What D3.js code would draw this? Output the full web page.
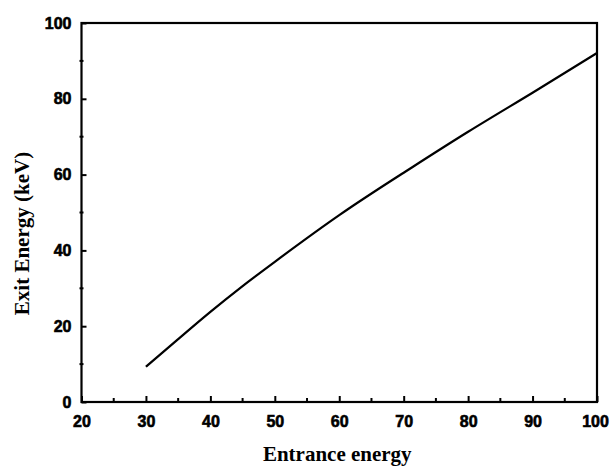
<!DOCTYPE html>
<html>
<head>
<meta charset="utf-8">
<script src="https://cdn.jsdelivr.net/npm/d3@7"></script>
<style>
  html, body { margin: 0; padding: 0; background: #fff; }
  svg { display: block; }
</style>
</head>
<body>
<svg id="chart" width="610" height="466"></svg>
<script>
// Exit energy versus entrance energy
const entranceEnergy = [30, 35, 40, 45, 50, 60, 70, 80, 90, 100];
const exitEnergy     = [9.3, 16.6, 23.8, 30.6, 37.0, 49.3, 60.5, 71.3, 81.6, 92.1];

const xTickValues = [20, 30, 40, 50, 60, 70, 80, 90, 100];
const xMinorTicks = [25, 35, 45, 55, 65, 75, 85, 95];
const yTickValues = [0, 20, 40, 60, 80, 100];
const yMinorTicks = [10, 30, 50, 70, 90];

const xTitle = "Entrance energy";
const yTitle = "Exit Energy (keV)";

const svg = d3.select("#chart");
const plotLeft = 81.5, plotRight = 597, plotTop = 23, plotBottom = 402;

const x = d3.scaleLinear().domain([20, 100]).range([plotLeft, plotRight]);
const y = d3.scaleLinear().domain([0, 100]).range([plotBottom, plotTop]);

const tickFont = "'Liberation Sans', Arial, sans-serif";
const titleFont = "'Liberation Serif', 'Times New Roman', serif";

// frame
svg.append("rect")
  .attr("x", plotLeft).attr("y", plotTop)
  .attr("width", plotRight - plotLeft).attr("height", plotBottom - plotTop)
  .attr("fill", "none").attr("stroke", "#000").attr("stroke-width", 2.2);

// x axis: inward ticks, labels below
const xAxis = svg.append("g").attr("transform", `translate(0,${plotBottom})`)
  .call(d3.axisBottom(x).tickValues(xTickValues).tickSizeInner(-6).tickSizeOuter(0).tickPadding(14));
xAxis.select(".domain").remove();
xAxis.selectAll(".tick line").attr("stroke-width", 2);
xAxis.selectAll(".tick text")
  .attr("font-family", tickFont).attr("font-weight", "bold").attr("font-size", 16)
  .attr("fill", "#000").attr("stroke", "#000").attr("stroke-width", 0.6);
// keep the last label inside the page
xAxis.selectAll(".tick text").filter(d => d === xTickValues[xTickValues.length - 1])
  .attr("dx", -2);

svg.append("g").attr("transform", `translate(0,${plotBottom})`)
  .selectAll("line").data(xMinorTicks).join("line")
  .attr("x1", d => x(d)).attr("x2", d => x(d))
  .attr("y1", 0).attr("y2", -4)
  .attr("stroke", "#000").attr("stroke-width", 2);

// y axis: inward ticks, labels left
const yAxis = svg.append("g").attr("transform", `translate(${plotLeft},0)`)
  .call(d3.axisLeft(y).tickValues(yTickValues).tickSizeInner(-5).tickSizeOuter(0).tickPadding(10));
yAxis.select(".domain").remove();
yAxis.selectAll(".tick line").attr("stroke-width", 2);
yAxis.selectAll(".tick text")
  .attr("font-family", tickFont).attr("font-weight", "bold").attr("font-size", 16)
  .attr("fill", "#000").attr("stroke", "#000").attr("stroke-width", 0.6);

svg.append("g").attr("transform", `translate(${plotLeft},0)`)
  .selectAll("line").data(yMinorTicks).join("line")
  .attr("x1", -2).attr("x2", 2)
  .attr("y1", d => y(d)).attr("y2", d => y(d))
  .attr("stroke", "#000").attr("stroke-width", 2);

// curve
svg.append("path")
  .datum(entranceEnergy.map((e, i) => [e, exitEnergy[i]]))
  .attr("fill", "none").attr("stroke", "#000").attr("stroke-width", 2.2)
  .attr("d", d3.line().x(d => x(d[0])).y(d => y(d[1])).curve(d3.curveNatural));

// axis titles
svg.append("text")
  .attr("x", (plotLeft + plotRight) / 2 - 2).attr("y", 461)
  .attr("text-anchor", "middle")
  .attr("font-family", titleFont).attr("font-weight", "bold").attr("font-size", 21)
  .text(xTitle);

svg.append("text")
  .attr("transform", `translate(29,${(plotTop + plotBottom) / 2 + 21}) rotate(-90)`)
  .attr("text-anchor", "middle")
  .attr("font-family", titleFont).attr("font-weight", "bold").attr("font-size", 21)
  .text(yTitle);
</script>
</body>
</html>
